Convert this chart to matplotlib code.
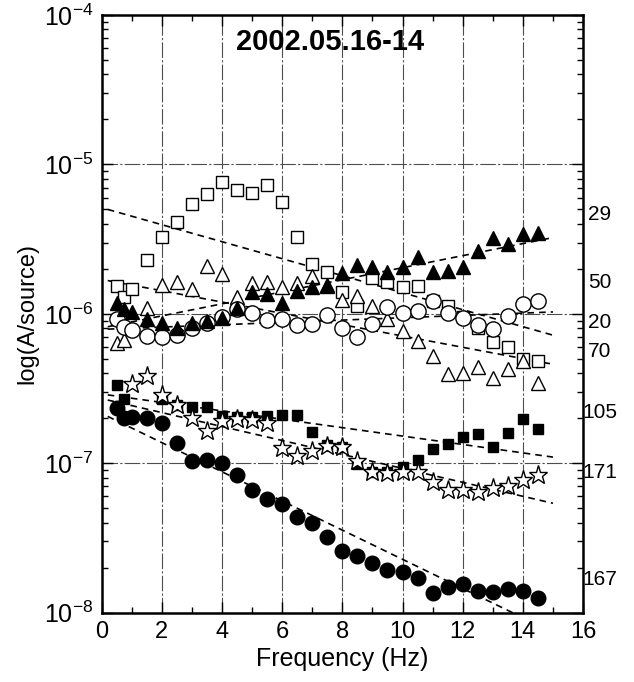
import matplotlib
matplotlib.use('Agg')
import matplotlib.pyplot as plt
import matplotlib.transforms as mtransforms
from matplotlib.ticker import LogLocator, MultipleLocator, NullFormatter

plt.rcParams['font.family'] = ['Liberation Sans', 'DejaVu Sans']
plt.rcParams['mathtext.fontset'] = 'custom'
plt.rcParams['mathtext.rm'] = 'Liberation Sans'

# ---------------- data ----------------
f_sq_open = [0.5, 0.75, 1.0, 1.5, 2.0, 2.5, 3.0, 3.5, 4.0, 4.5, 5.0, 5.5, 6.0, 6.5, 7.0,
             7.5, 8.0, 8.5, 9.0, 9.5, 10.0, 10.5, 11.0, 11.5, 12.0, 12.5, 13.0, 13.5, 14.0, 14.5]
a_sq_open = [1.54e-6, 1.30e-6, 1.46e-6, 2.3e-6, 3.26e-6, 4.1e-6, 5.4e-6, 6.3e-6, 7.6e-6, 6.7e-6,
             6.4e-6, 7.3e-6, 5.6e-6, 3.26e-6, 2.16e-6, 1.92e-6, 1.39e-6, 1.13e-6, 1.73e-6, 1.64e-6,
             1.52e-6, 1.54e-6, 1.22e-6, 1.13e-6, 9.5e-7, 8.1e-7, 6.5e-7, 6.0e-7, 5.0e-7, 4.8e-7]

f_tri_open = [0.5, 0.75, 1.5, 2.0, 2.5, 3.0, 3.5, 4.0, 4.5, 5.0, 5.5, 6.0, 6.5, 7.0, 7.5,
              8.0, 8.5, 9.0, 9.5, 10.0, 10.5, 11.0, 11.5, 12.0, 12.5, 13.0, 13.5, 14.0, 14.5]
a_tri_open = [6.4e-7, 6.7e-7, 1.10e-6, 1.56e-6, 1.64e-6, 1.46e-6, 2.08e-6, 1.86e-6, 1.30e-6, 1.60e-6,
              1.64e-6, 1.52e-6, 1.62e-6, 1.79e-6, 1.56e-6, 1.24e-6, 1.32e-6, 1.13e-6, 9.2e-7, 7.7e-7,
              6.6e-7, 5.2e-7, 3.96e-7, 4.04e-7, 4.4e-7, 3.7e-7, 4.26e-7, 4.8e-7, 3.46e-7]

f_tri_fill = [0.5, 0.75, 1.0, 1.5, 2.0, 2.5, 3.0, 3.5, 4.0, 4.5, 5.0, 5.5, 6.0, 6.5, 7.0,
              7.5, 8.0, 8.5, 9.0, 9.5, 10.0, 10.5, 11.0, 11.5, 12.0, 12.5, 13.0, 13.5, 14.0, 14.5]
a_tri_fill = [1.19e-6, 1.07e-6, 1.03e-6, 9.2e-7, 8.7e-7, 8.1e-7, 8.65e-7, 9.0e-7, 9.35e-7, 1.10e-6,
              1.39e-6, 1.35e-6, 1.18e-6, 1.43e-6, 1.51e-6, 1.54e-6, 1.89e-6, 2.13e-6, 2.05e-6, 1.92e-6,
              2.07e-6, 2.39e-6, 1.92e-6, 1.95e-6, 2.05e-6, 2.65e-6, 3.2e-6, 2.94e-6, 3.43e-6, 3.47e-6]

f_circ_open = [0.5, 0.75, 1.0, 1.5, 2.0, 2.5, 3.0, 3.5, 4.0, 4.5, 5.0, 5.5, 6.0, 6.5, 7.0,
               7.5, 8.0, 8.5, 9.0, 9.5, 10.0, 10.5, 11.0, 11.5, 12.0, 12.5, 13.0, 13.5, 14.0, 14.5]
a_circ_open = [9.2e-7, 8.2e-7, 7.8e-7, 7.1e-7, 7.0e-7, 7.2e-7, 8.1e-7, 8.65e-7, 9.5e-7, 1.08e-6,
               1.02e-6, 9.1e-7, 9.2e-7, 8.4e-7, 8.6e-7, 9.8e-7, 8.0e-7, 7.0e-7, 8.5e-7, 1.12e-6,
               1.01e-6, 1.04e-6, 1.21e-6, 1.01e-6, 9.4e-7, 8.4e-7, 7.9e-7, 9.7e-7, 1.16e-6, 1.22e-6]

f_sq_fill = [0.5, 0.75, 2.0, 2.5, 3.0, 3.5, 4.0, 4.5, 5.0, 5.5, 6.0, 6.5, 7.0, 7.5, 8.0,
             8.5, 9.0, 9.5, 10.0, 10.5, 11.0, 11.5, 12.0, 12.5, 13.0, 13.5, 14.0, 14.5]
a_sq_fill = [3.35e-7, 2.68e-7, 2.68e-7, 2.45e-7, 2.39e-7, 2.37e-7, 2.07e-7, 2.05e-7, 2.05e-7, 2.07e-7,
             2.12e-7, 2.12e-7, 1.62e-7, 1.32e-7, 1.29e-7, 9.9e-8, 8.7e-8, 8.7e-8, 9.5e-8, 1.05e-7,
             1.24e-7, 1.34e-7, 1.51e-7, 1.56e-7, 1.28e-7, 1.60e-7, 1.97e-7, 1.69e-7]

f_star = [1.0, 1.5, 2.0, 2.5, 3.0, 3.5, 4.0, 4.5, 5.0, 5.5, 6.0, 6.5, 7.0, 7.5, 8.0,
          8.5, 9.0, 9.5, 10.0, 10.5, 11.0, 11.5, 12.0, 12.5, 13.0, 13.5, 14.0, 14.5]
a_star = [3.4e-7, 3.84e-7, 2.87e-7, 2.45e-7, 2.0e-7, 1.64e-7, 1.92e-7, 1.97e-7, 1.95e-7, 1.87e-7,
          1.26e-7, 1.12e-7, 1.21e-7, 1.31e-7, 1.28e-7, 1.04e-7, 8.7e-8, 8.6e-8, 8.8e-8, 8.8e-8,
          7.5e-8, 6.6e-8, 6.6e-8, 6.4e-8, 6.8e-8, 7.0e-8, 7.7e-8, 8.4e-8]

f_circ_fill = [0.5, 0.75, 1.0, 1.5, 2.0, 2.5, 3.0, 3.5, 4.0, 4.5, 5.0, 5.5, 6.0, 6.5, 7.0,
               7.5, 8.0, 8.5, 9.0, 9.5, 10.0, 10.5, 11.0, 11.5, 12.0, 12.5, 13.0, 13.5, 14.0, 14.5]
a_circ_fill = [2.33e-7, 2.0e-7, 2.05e-7, 2.02e-7, 1.87e-7, 1.37e-7, 1.04e-7, 1.05e-7, 1.0e-7, 8.4e-8,
               6.6e-8, 5.8e-8, 5.3e-8, 4.4e-8, 4.0e-8, 3.2e-8, 2.6e-8, 2.4e-8, 2.16e-8, 1.93e-8,
               1.88e-8, 1.70e-8, 1.36e-8, 1.49e-8, 1.55e-8, 1.40e-8, 1.37e-8, 1.43e-8, 1.40e-8, 1.25e-8]

# fitted lines (value at start and end frequency)
fit_f = [0.2, 15.0]
fit_tri_fill = [8.2e-7, 3.24e-6]
fit_sq_open = [5.0e-6, 7.2e-7]
fit_tri_open = [1.67e-6, 4.6e-7]
fit_circ_open = [7.9e-7, 1.03e-6]
fit_sq_fill = [2.87e-7, 1.10e-7]
fit_star = [2.65e-7, 5.4e-8]
fit_circ_fill = [2.06e-7, 7.4e-9]

station_labels = ['29', '50', '20', '70', '105', '171', '167']
station_label_y = [4.6e-6, 1.63e-6, 8.8e-7, 5.6e-7, 2.2e-7, 8.7e-8, 1.66e-8]

title = '2002.05.16-14'

# ---------------- plot ----------------
fig = plt.figure(figsize=(6.34, 6.82), dpi=100)
ax = fig.add_axes([0.1604, 0.1016, 0.7592, 0.8764])
ax.set_yscale('log')
ax.set_xlim(0, 16)
ax.set_ylim(1e-8, 1e-4)

ax.grid(True, which='major', axis='both', color='0.3', lw=0.8, linestyle=(0, (14, 2, 2, 2)))
ax.set_axisbelow(True)

dash = (0, (4, 3))
for fit in [fit_tri_fill, fit_sq_open, fit_tri_open, fit_circ_open, fit_sq_fill, fit_star, fit_circ_fill]:
    ax.plot(fit_f, fit, color='black', lw=1.2, linestyle=dash, zorder=2)

mk = dict(linestyle='none', mec='black', mew=1.0, zorder=3)
ax.plot(f_sq_open, a_sq_open, marker='s', ms=8, mfc='white', **mk)
ax.plot(f_tri_open, a_tri_open, marker='^', ms=9.5, mfc='white', **mk)
ax.plot(f_circ_open, a_circ_open, marker='o', ms=11, mfc='white', **mk)
ax.plot(f_tri_fill, a_tri_fill, marker='^', ms=9.5, mfc='black', **mk)
ax.plot(f_sq_fill, a_sq_fill, marker='s', ms=7.5, mfc='black', **mk)
ax.plot(f_star, a_star, marker='*', ms=14, mfc='white', **mk)
ax.plot(f_circ_fill, a_circ_fill, marker='o', ms=10.5, mfc='black', **mk)

ax.xaxis.set_major_locator(MultipleLocator(2))
ax.xaxis.set_minor_locator(MultipleLocator(1))
ax.yaxis.set_major_locator(LogLocator(base=10, numticks=10))
ax.yaxis.set_minor_locator(LogLocator(base=10, subs=range(2, 10), numticks=20))
ax.yaxis.set_minor_formatter(NullFormatter())
ax.tick_params(which='both', direction='in', top=True, right=True, width=1.0)
ax.tick_params(axis='x', labelsize=17, pad=6)
ax.tick_params(axis='y', labelsize=18, pad=6)
ax.tick_params(which='major', length=8)
ax.tick_params(which='minor', length=4)
for s in ax.spines.values():
    s.set_linewidth(1.8)

ax.set_xlabel('Frequency (Hz)', fontsize=18, labelpad=3)
ax.set_ylabel('log(A/source)', fontsize=17, labelpad=4)

ax.text(0.474, 0.955, title, transform=ax.transAxes, ha='center', va='center',
        fontsize=21, fontweight='bold')

trans = mtransforms.blended_transform_factory(ax.transAxes, ax.transData)
for lab, yv in zip(station_labels, station_label_y):
    ax.text(1.035, yv, lab, transform=trans, ha='center', va='center', fontsize=15, clip_on=False)

fig.savefig('out.png', dpi=100)
